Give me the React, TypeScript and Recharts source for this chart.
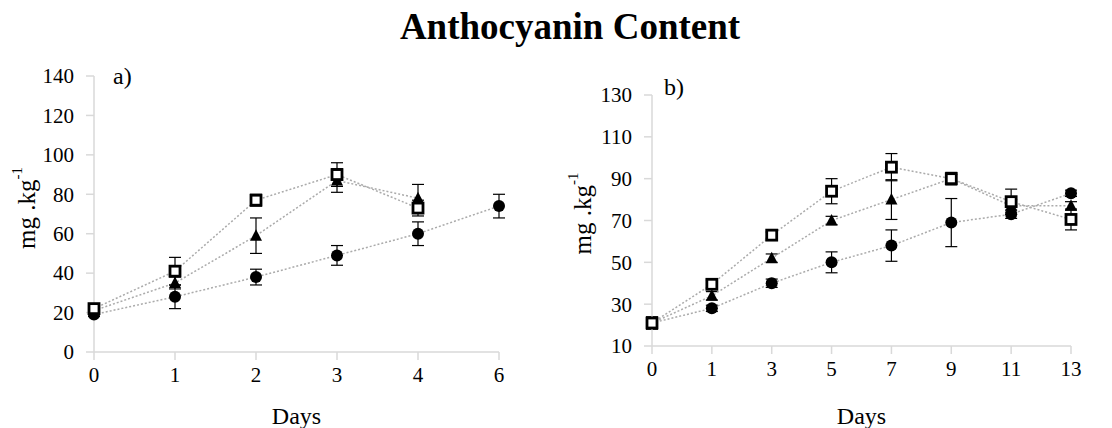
import { LineChart, Line, XAxis, YAxis, ErrorBar } from 'recharts';

// a) short storage, days 0-6
const daysA = ['0', '1', '2', '3', '4', '6'];
const circleA = [19, 28, 38, 49, 60, 74];
const circleErrA = [1, 6, 4, 5, 6, 6];
const triangleA = [21, 35, 59, 87, 78, null];
const triangleErrA = [1, 3, 9, 6, 7, null];
const squareA = [22, 41, 77, 90, 73, null];
const squareErrA = [1, 7, 3, 6, 4, null];

// b) long storage, days 0-13
const daysB = ['0', '1', '3', '5', '7', '9', '11', '13'];
const circleB = [21, 28, 40, 50, 58, 69, 73, 83];
const circleErrB = [1, 1.5, 2, 5, 7.5, 11.5, 2, 1.5];
const triangleB = [21, 34, 52, 70, 80, 90, 77, 77];
const triangleErrB = [1, 2, 2, 2, 9.5, 2, 3, 2];
const squareB = [21, 39.5, 63, 84, 95.5, 90, 79, 70.5];
const squareErrB = [3, 2, 1.5, 6, 6.5, 3, 6, 5];

const ticksA = [0, 20, 40, 60, 80, 100, 120, 140];
const ticksB = [10, 30, 50, 70, 90, 110, 130];

const FONT = '"Liberation Serif", "Times New Roman", serif';
const AXIS = '#d9d9d9';
const LINK = '#ababab';

function rows(days: string[], c: any[], ce: any[], t: any[], te: any[], s: any[], se: any[]) {
  return days.map((d, i) => ({
    day: d,
    circle: c[i], circleErr: ce[i],
    triangle: t[i], triangleErr: te[i],
    square: s[i], squareErr: se[i],
  }));
}

const dataA = rows(daysA, circleA, circleErrA, triangleA, triangleErrA, squareA, squareErrA);
const dataB = rows(daysB, circleB, circleErrB, triangleB, triangleErrB, squareB, squareErrB);

const CircleDot = (p: any) => {
  if (p.cy == null || p.value == null) return <g key={p.key} />;
  return <circle key={p.key} cx={p.cx} cy={p.cy} r={6} fill="#000" />;
};

const TriangleDot = (p: any) => {
  if (p.cy == null || p.value == null) return <g key={p.key} />;
  const { cx, cy } = p;
  return <path key={p.key} d={`M${cx},${cy - 6.5} L${cx + 6},${cy + 5} L${cx - 6},${cy + 5} Z`} fill="#000" />;
};

const SquareDot = (p: any) => {
  if (p.cy == null || p.value == null) return <g key={p.key} />;
  return (
    <rect key={p.key} x={p.cx - 5} y={p.cy - 5} width={10} height={10}
      fill="#fff" stroke="#000" strokeWidth={2.8} />
  );
};

const XTick = (p: any) => (
  <text x={p.x} y={p.y} dy="0.71em" textAnchor="middle" fontFamily={FONT} fontSize={21} fill="#000">
    {p.payload.value}
  </text>
);

const YTick = (p: any) => (
  <text x={p.x} y={p.y} dy="0.35em" textAnchor="end" fontFamily={FONT} fontSize={21} fill="#000">
    {p.payload.value}
  </text>
);

const yLabel = (dx: number, dy: number) => (props: any) => {
  const vb = props.viewBox;
  const x = vb.x + dx;
  const y = vb.y + vb.height / 2 + dy;
  return (
    <text x={x} y={y} transform={`rotate(-90 ${x} ${y})`} textAnchor="middle"
      dominantBaseline="central" fontFamily={FONT} fontSize={25} fill="#000">
      mg .kg<tspan dy={-9} fontSize={15}>-1</tspan>
    </text>
  );
};

interface PanelProps {
  data: any[];
  ticks: number[];
  domain: [number, number];
  width: number;
  margin: { top: number; right: number; bottom: number; left: number };
  labelDx: number;
  labelDy: number;
  daysOffset: number;
}

function Panel({ data, ticks, domain, width, margin, labelDx, labelDy, daysOffset }: PanelProps) {
  return (
    <LineChart width={width} height={428} data={data} margin={margin}>
      <XAxis
        dataKey="day"
        stroke={AXIS}
        strokeWidth={1.5}
        tick={<XTick />}
        tickSize={8}
        tickMargin={7}
        height={30}
        label={{ value: 'Days', position: 'bottom', offset: daysOffset, fontSize: 24, fontFamily: FONT, fill: '#000' }}
      />
      <YAxis
        type="number"
        domain={domain}
        ticks={ticks}
        interval={0}
        stroke={AXIS}
        strokeWidth={1.5}
        tick={<YTick />}
        tickSize={8}
        tickMargin={12}
        width={60}
        label={{ content: yLabel(labelDx, labelDy) }}
      />
      <Line dataKey="circle" stroke={LINK} strokeWidth={1.5} strokeDasharray="2 2"
        dot={CircleDot} activeDot={false} isAnimationActive={false}>
        <ErrorBar dataKey="circleErr" direction="y" width={6} stroke="#000" strokeWidth={1.2} />
      </Line>
      <Line dataKey="triangle" stroke={LINK} strokeWidth={1.5} strokeDasharray="2 2"
        dot={TriangleDot} activeDot={false} isAnimationActive={false}>
        <ErrorBar dataKey="triangleErr" direction="y" width={6} stroke="#000" strokeWidth={1.2} />
      </Line>
      <Line dataKey="square" stroke={LINK} strokeWidth={1.5} strokeDasharray="2 2"
        dot={SquareDot} activeDot={false} isAnimationActive={false}>
        <ErrorBar dataKey="squareErr" direction="y" width={6} stroke="#000" strokeWidth={1.2} />
      </Line>
    </LineChart>
  );
}

export default function App() {
  return (
    <div style={{ position: 'absolute', left: 0, top: 0, width: 1112, height: 428, background: '#fff', fontFamily: FONT }}>
      <div style={{ position: 'absolute', left: 0, top: 5, width: 1140, textAlign: 'center', fontSize: 37, fontWeight: 'bold', color: '#000' }}>
        Anthocyanin Content
      </div>
      <div style={{ position: 'absolute', left: 0, top: 0 }}>
        <Panel data={dataA} ticks={ticksA} domain={[0, 140]} width={540}
          margin={{ top: 76, right: 41, bottom: 46, left: 34 }} labelDx={-8} labelDy={-6} daysOffset={25} />
      </div>
      <div style={{ position: 'absolute', left: 560, top: 0 }}>
        <Panel data={dataB} ticks={ticksB} domain={[10, 130]} width={552}
          margin={{ top: 95, right: 41, bottom: 52, left: 32 }} labelDx={-10} labelDy={-7} daysOffset={31} />
      </div>
      <div style={{ position: 'absolute', left: 113, top: 63, fontSize: 24, color: '#000' }}>a)</div>
      <div style={{ position: 'absolute', left: 664, top: 74, fontSize: 24, color: '#000' }}>b)</div>
    </div>
  );
}
